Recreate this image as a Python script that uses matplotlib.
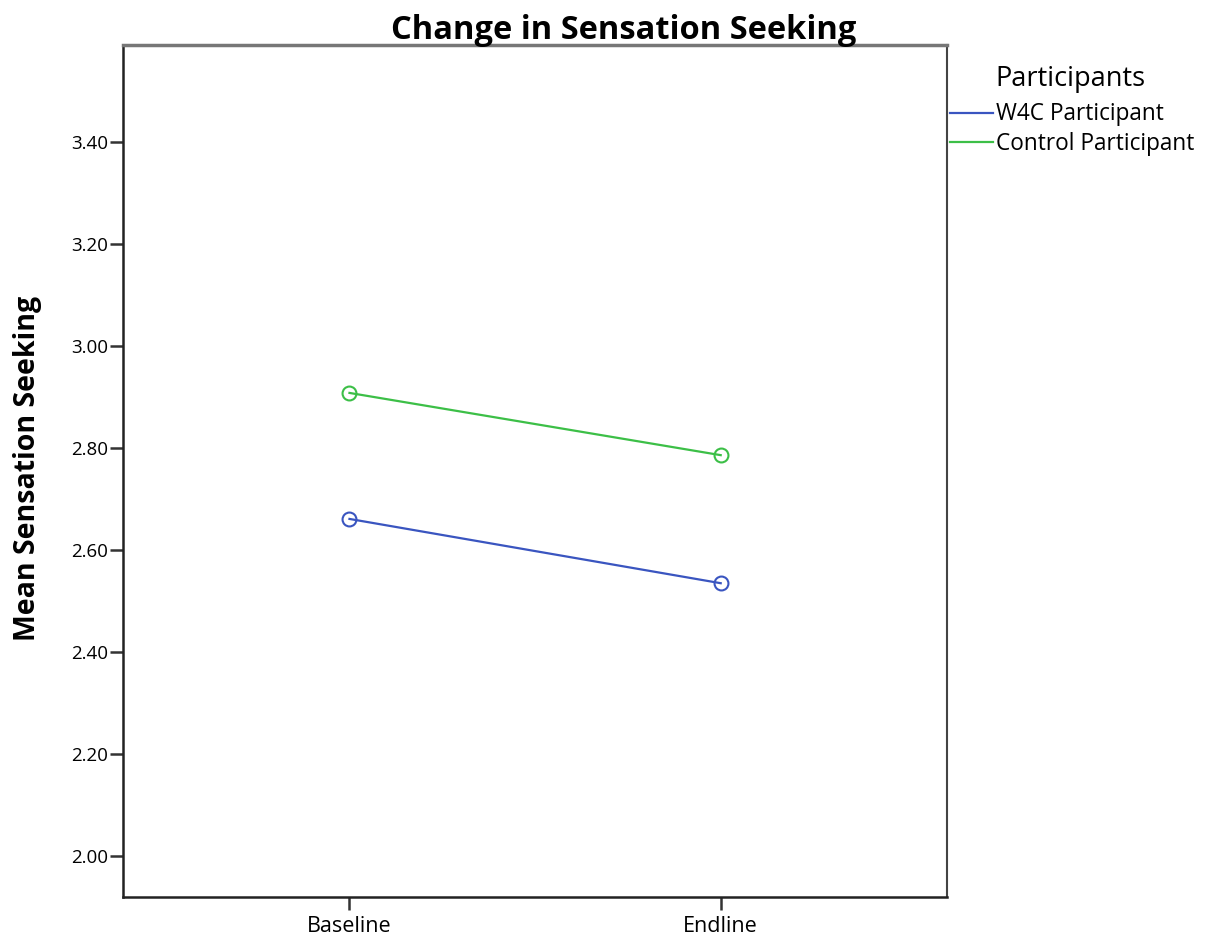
import matplotlib
matplotlib.use("Agg")
import matplotlib.pyplot as plt
from matplotlib.lines import Line2D

categories = ["Baseline", "Endline"]
w4c_values = [2.661, 2.535]
control_values = [2.908, 2.786]
yticks = [2.00, 2.20, 2.40, 2.60, 2.80, 3.00, 3.20, 3.40]
series_labels = ["W4C Participant", "Control Participant"]
colors = ["#3a55c0", "#3cbf47"]

plt.rcParams['font.family'] = ['Open Sans', 'DejaVu Sans']

fig = plt.figure(figsize=(12.12, 9.41), dpi=100)
ax = fig.add_axes([0.1015, 0.0468, 0.68, 0.9054])

x = list(range(len(categories)))
ax.plot(x, w4c_values, color=colors[0], lw=1.6, marker="o", ms=10,
        mfc="none", mew=1.5, label=series_labels[0])
ax.plot(x, control_values, color=colors[1], lw=1.6, marker="o", ms=10,
        mfc="none", mew=1.5, label=series_labels[1])

ax.set_xlim(-0.61, 1.61)
ax.set_ylim(1.92, 3.59)
ax.set_xticks(x)
ax.set_xticklabels(categories, fontsize=15.5)
ax.set_yticks(yticks)
ax.set_yticklabels([f"{v:.2f}" for v in yticks], fontsize=13.5)
ax.tick_params(axis="both", direction="out", length=9.5, width=1.8, color="#333333")
ax.tick_params(axis="x", pad=4)
ax.tick_params(axis="y", pad=1.5)

for s in ["left", "bottom"]:
    ax.spines[s].set_linewidth(1.8)
    ax.spines[s].set_color("#222222")
ax.spines["top"].set_linewidth(2.5)
ax.spines["top"].set_color("#777777")
ax.spines["right"].set_linewidth(1.5)
ax.spines["right"].set_color("#444444")

fig.text(28 / 1212, 1 - 468 / 941, "Mean Sensation Seeking", fontsize=20.5,
         fontweight="bold", rotation=90, ha="center", va="center")
fig.text(0.515, 0.968, "Change in Sensation Seeking", fontsize=23.5, fontweight="bold",
         ha="center", va="center")

handles = [Line2D([], [], color=c, lw=1.6) for c in colors]
leg = ax.legend(handles, series_labels, loc="upper left", bbox_to_anchor=(1.004, 0.9325),
                frameon=False, fontsize=16.3, handlelength=1.9, handletextpad=0.12,
                borderaxespad=0.0, borderpad=0.0, labelspacing=0.24)
fig.text(995 / 1212, 1 - 79 / 941, "Participants", fontsize=19.5, ha="left", va="center")

fig.savefig("out.png", dpi=100, facecolor="white")
